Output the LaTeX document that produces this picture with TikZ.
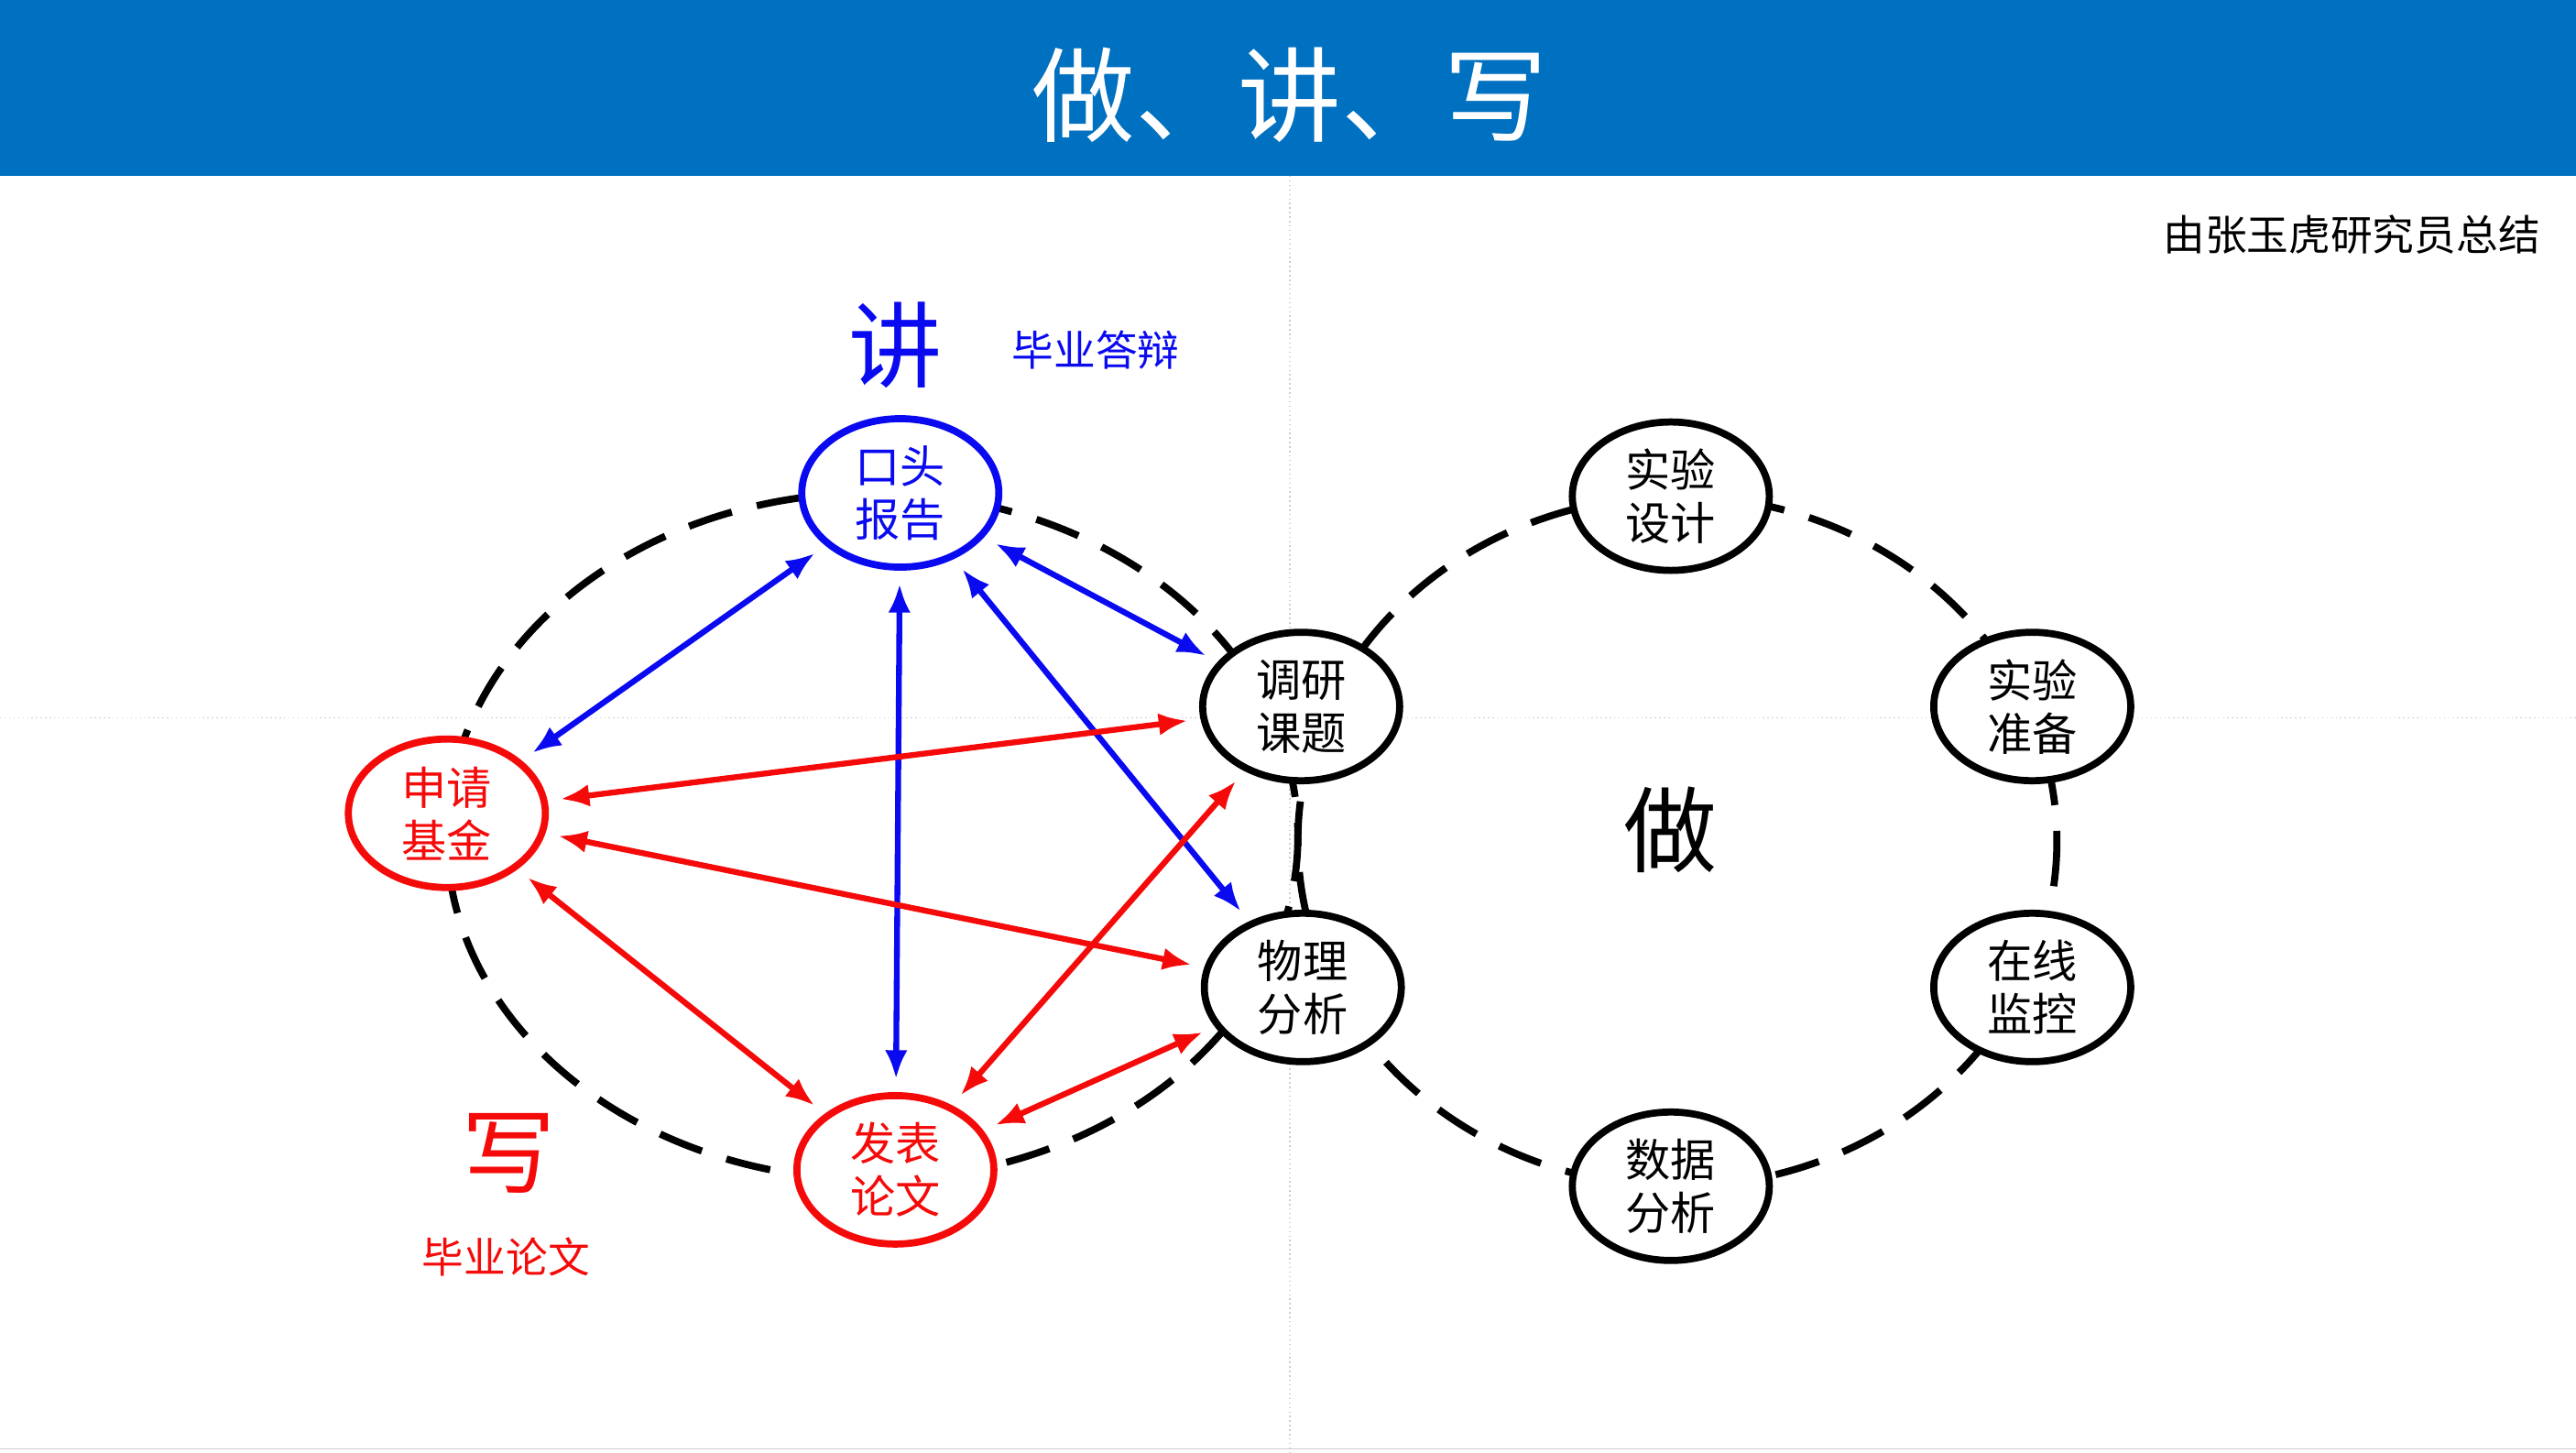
\documentclass[tikz,border=0pt]{standalone}
\usepackage{fontspec}
\setmainfont{Noto Sans CJK SC}
\usetikzlibrary{shapes.geometric,arrows.meta}
\definecolor{barblue}{RGB}{0,112,192}
\definecolor{kblue}{RGB}{10,10,240}
\definecolor{kred}{RGB}{245,10,10}
\begin{document}
\begin{tikzpicture}[x=0.01793cm, y=-0.01793cm,
    task/.style={ellipse, draw, line width=2.2pt, fill=white, inner sep=0pt,
      minimum width=2.15cm, minimum height=1.62cm, align=center,
      font=\fontsize{14}{16.5}\selectfont},
    loop/.style={line width=2.2pt, dash pattern=on 14pt off 8pt},
    link/.style={{Latex[length=9pt,width=7pt]}-{Latex[length=9pt,width=7pt]}, line width=1.8pt, shorten <=4pt, shorten >=4pt},
    big/.style={font=\fontsize{29}{32}\selectfont},
    note/.style={font=\fontsize{13}{15}\selectfont}]

    % Canvas and header
    \useasboundingbox (0,0) rectangle (1568,884);
    \fill[barblue] (0,0) rectangle (1568,107);
    \node[white, font=\fontsize{32}{36}\selectfont] (title) at (785,58) {做、讲、写};
    \draw[gray!40, densely dotted] (785,107) -- (785,884);
    \draw[gray!40, densely dotted] (0,437) -- (1568,437);
    \draw[gray!40] (0,882) -- (1568,882);
    \node[note, anchor=east] (author) at (1553,143) {由张玉虎研究员总结};

    % Dashed loops
    \draw[loop] (531,509) ellipse [x radius=259, y radius=209];
    \draw[loop] (1021,512) ellipse [x radius=231, y radius=210];

    % Labels
    \node[big, kblue] (jiang) at (545,210) {讲};
    \node[note, kblue] (dabian) at (667,213) {毕业答辩};
    \node[big, kred] (xie) at (310,702) {写};
    \node[note, kred] (lunwen) at (308,765) {毕业论文};
    \node[big] (zuo) at (1017,505) {做};

    % Nodes
    \node[task, draw=kblue, text=kblue] (kt) at (548,300) {口头\\报告};
    \node[task, draw=kred, text=kred] (sq) at (272,495) {申请\\基金};
    \node[task, draw=kred, text=kred] (fb) at (545,712) {发表\\论文};
    \node[task] (dy) at (792,430) {调研\\课题};
    \node[task] (wl) at (793,601) {物理\\分析};
    \node[task] (sj) at (1017,302) {实验\\设计};
    \node[task] (zb) at (1237,430) {实验\\准备};
    \node[task] (jk) at (1237,601) {在线\\监控};
    \node[task] (fx) at (1017,722) {数据\\分析};

    % Links
    \draw[link, kblue] (sq) -- (kt);
    \draw[link, kblue] (kt) -- (fb);
    \draw[link, kblue] (kt) -- (wl);
    \draw[link, kblue] (kt) -- (dy);
    \draw[link, kred] (sq) -- (dy);
    \draw[link, kred] (sq) -- (wl);
    \draw[link, kred] (sq) -- (fb);
    \draw[link, kred] (fb) -- (dy);
    \draw[link, kred] (fb) -- (wl);
  \end{tikzpicture}
\end{document}
